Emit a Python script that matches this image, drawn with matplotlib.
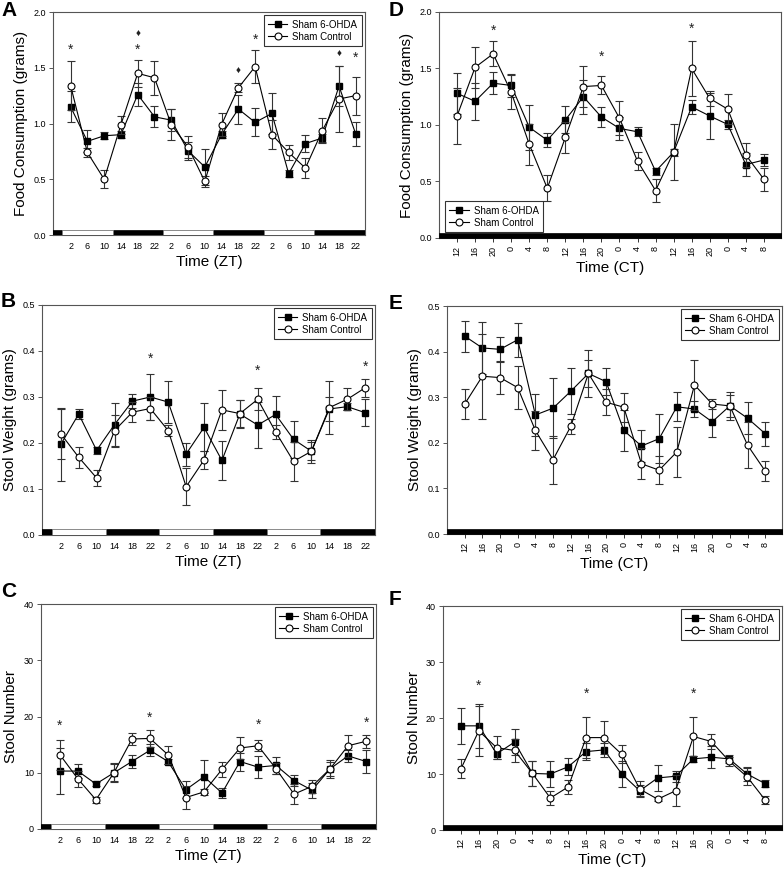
import matplotlib
matplotlib.use("Agg")
import matplotlib.pyplot as plt
from matplotlib.lines import Line2D
import numpy as np

plt.rcParams['font.family'] = ['Liberation Sans', 'DejaVu Sans']

# ---------------- data ----------------
zt_labels = ['2', '6', '10', '14', '18', '22'] * 3
ct_labels = ['12', '16', '20', '0', '4', '8'] * 3
zt_hours = [2, 6, 10, 14, 18, 22, 26, 30, 34, 38, 42, 46, 50, 54, 58, 62, 66, 70]
dark_periods = [(-3, 0), (12, 24), (36, 48), (60, 73)]
light_periods = [(0, 12), (24, 36), (48, 60)]

# Panel A: food consumption (ZT)
A_ohda = [1.15, 0.84, 0.89, 0.90, 1.26, 1.06, 1.03, 0.755, 0.61, 0.90, 1.13, 1.01, 1.09, 0.55, 0.82, 0.87, 1.335, 0.905]
A_ohda_se = [0.14, 0.10, 0.03, 0.03, 0.10, 0.095, 0.10, 0.08, 0.16, 0.03, 0.13, 0.125, 0.18, 0.03, 0.08, 0.04, 0.18, 0.105]
A_ctrl = [1.34, 0.74, 0.50, 0.99, 1.45, 1.41, 0.99, 0.79, 0.48, 0.99, 1.32, 1.51, 0.90, 0.74, 0.60, 0.935, 1.22, 1.25]
A_ctrl_se = [0.22, 0.04, 0.08, 0.08, 0.12, 0.15, 0.14, 0.10, 0.05, 0.10, 0.04, 0.15, 0.13, 0.07, 0.09, 0.11, 0.30, 0.17]
A_star = [(0, 1.66), (4, 1.66), (11, 1.75), (17, 1.59)]
A_diam = [(4, 1.80), (10, 1.47), (16, 1.62)]

# Panel D: food consumption (CT)
D_ohda = [1.28, 1.21, 1.37, 1.35, 0.98, 0.865, 1.045, 1.25, 1.07, 0.97, 0.94, 0.59, 0.76, 1.16, 1.08, 1.005, 0.65, 0.69]
D_ohda_se = [0.18, 0.165, 0.10, 0.10, 0.20, 0.06, 0.12, 0.15, 0.09, 0.10, 0.04, 0.03, 0.25, 0.06, 0.20, 0.04, 0.10, 0.05]
D_ctrl = [1.08, 1.51, 1.63, 1.29, 0.83, 0.44, 0.89, 1.34, 1.35, 1.06, 0.68, 0.42, 0.76, 1.50, 1.235, 1.14, 0.735, 0.52]
D_ctrl_se = [0.25, 0.18, 0.11, 0.15, 0.18, 0.115, 0.14, 0.18, 0.08, 0.15, 0.08, 0.10, 0.03, 0.24, 0.065, 0.13, 0.11, 0.10]
D_star = [(2, 1.83), (8, 1.60), (13, 1.85)]

# Panel B: stool weight (ZT)
B_ohda = [0.197, 0.263, 0.184, 0.240, 0.291, 0.300, 0.289, 0.176, 0.234, 0.162, 0.263, 0.239, 0.262, 0.208, 0.182, 0.274, 0.279, 0.266]
B_ohda_se = [0.08, 0.01, 0.008, 0.048, 0.015, 0.05, 0.045, 0.025, 0.052, 0.043, 0.03, 0.05, 0.04, 0.04, 0.02, 0.026, 0.008, 0.03]
B_ctrl = [0.220, 0.169, 0.124, 0.227, 0.267, 0.275, 0.227, 0.105, 0.163, 0.272, 0.264, 0.295, 0.224, 0.160, 0.182, 0.277, 0.295, 0.320]
B_ctrl_se = [0.055, 0.023, 0.018, 0.034, 0.022, 0.025, 0.012, 0.04, 0.02, 0.043, 0.03, 0.024, 0.015, 0.043, 0.025, 0.057, 0.024, 0.02]
B_star = [(5, 0.383), (11, 0.358), (17, 0.365)]

# Panel E: stool weight (CT)
E_ohda = [0.434, 0.408, 0.405, 0.426, 0.261, 0.276, 0.313, 0.352, 0.334, 0.227, 0.193, 0.209, 0.279, 0.274, 0.246, 0.281, 0.254, 0.220]
E_ohda_se = [0.034, 0.057, 0.026, 0.037, 0.045, 0.066, 0.05, 0.03, 0.03, 0.046, 0.036, 0.054, 0.032, 0.017, 0.034, 0.03, 0.035, 0.026]
E_ctrl = [0.285, 0.346, 0.343, 0.321, 0.227, 0.163, 0.236, 0.352, 0.289, 0.278, 0.154, 0.140, 0.180, 0.327, 0.285, 0.281, 0.195, 0.138]
E_ctrl_se = [0.033, 0.093, 0.035, 0.047, 0.043, 0.053, 0.016, 0.052, 0.029, 0.032, 0.034, 0.03, 0.054, 0.055, 0.01, 0.024, 0.05, 0.022]

# Panel C: stool number (ZT)
C_ohda = [10.3, 10.3, 8.0, 10.0, 12.0, 14.0, 12.0, 7.0, 9.3, 6.4, 12.0, 11.0, 11.3, 8.6, 6.9, 10.7, 13.0, 12.0]
C_ohda_se = [4.1, 1.2, 0.4, 1.7, 1.2, 1.1, 0.5, 1.5, 2.9, 0.9, 1.6, 2.0, 1.5, 1.0, 1.3, 1.6, 1.0, 2.0]
C_ctrl = [13.2, 8.9, 5.2, 10.0, 16.0, 16.1, 13.2, 5.6, 6.6, 10.6, 14.4, 14.8, 10.7, 6.2, 7.6, 10.7, 14.8, 15.6]
C_ctrl_se = [2.7, 1.5, 0.5, 1.5, 1.1, 1.5, 1.6, 2.1, 0.5, 1.4, 1.9, 1.0, 1.0, 1.8, 1.2, 1.3, 2.0, 1.2]
C_star = [(0, 18.3), (5, 19.7), (11, 18.6), (17, 18.9)]

# Panel F: stool number (CT)
F_ohda = [18.6, 18.6, 13.6, 15.7, 10.1, 10.0, 11.3, 14.0, 14.3, 10.0, 7.0, 9.3, 9.6, 12.7, 13.0, 12.7, 10.0, 8.3]
F_ohda_se = [3.2, 3.9, 0.9, 2.3, 2.2, 2.3, 1.5, 1.5, 1.2, 2.3, 1.0, 2.3, 1.0, 0.6, 2.0, 0.7, 1.2, 0.6]
F_ctrl = [10.9, 17.7, 14.7, 14.2, 10.1, 5.7, 7.7, 16.5, 16.5, 13.5, 7.3, 5.5, 7.0, 16.7, 15.8, 12.3, 9.5, 5.4]
F_ctrl_se = [1.7, 4.4, 2.0, 2.0, 2.2, 1.2, 1.3, 3.6, 3.0, 1.6, 1.4, 0.4, 2.8, 3.5, 1.4, 0.8, 1.5, 0.7]
F_star = [(1, 25.8), (7, 24.4), (13, 24.4)]

series_names = ['Sham 6-OHDA', 'Sham Control']

# ---------------- figure ----------------
fig = plt.figure(figsize=(7.84, 8.77), dpi=100)
W, H = 784.0, 877.0

def make_ax(l, r, t, b):
    return fig.add_axes([l / W, 1 - b / H, (r - l) / W, (b - t) / H])

spine_col = '#555555'
SQ_MS, CI_MS = 4.3, 5.0

def draw_series(ax, x, ohda, ohda_se, ctrl, ctrl_se):
    ax.errorbar(x, ohda, yerr=ohda_se, color='black', ecolor='#333333', elinewidth=0.8,
                capsize=2.6, capthick=0.8, lw=0.8, marker='s', ms=SQ_MS, mfc='black', mec='black',
                zorder=3)
    ax.errorbar(x, ctrl, yerr=ctrl_se, color='black', ecolor='#333333', elinewidth=0.8,
                capsize=2.6, capthick=0.8, lw=0.8, marker='o', ms=CI_MS, mfc='white', mec='black',
                mew=0.8, zorder=4)

def style(ax, ylim, yticks, yfmt, ylabel, xlabel):
    ax.set_ylim(*ylim)
    ax.set_yticks(yticks)
    ax.set_yticklabels([yfmt.format(v) for v in yticks], fontsize=6.5)
    for s in ax.spines.values():
        s.set_color(spine_col)
        s.set_linewidth(0.8)
    ax.tick_params(axis='y', length=3, width=0.7, color=spine_col, pad=2)
    ax.set_ylabel(ylabel, fontsize=11, labelpad=4)
    ax.set_xlabel(xlabel, fontsize=11, labelpad=3)

def legend(ax, loc, pad=0.35):
    handles = [Line2D([], [], color='black', lw=0.8, marker='s', ms=SQ_MS, mfc='black', mec='black'),
               Line2D([], [], color='black', lw=0.8, marker='o', ms=CI_MS, mfc='white', mec='black', mew=0.8)]
    lg = ax.legend(handles, series_names, loc=loc, fontsize=7, frameon=True, fancybox=False,
                   edgecolor='black', handlelength=2.0, borderpad=0.45, labelspacing=0.2,
                   handletextpad=0.5, borderaxespad=pad)
    lg.get_frame().set_linewidth(0.8)

def zt_axis(ax):
    ax.set_xlim(-2.2, 72.2)
    ax.set_xticks(zt_hours)
    ax.set_xticklabels(zt_labels, fontsize=6.5)
    ax.tick_params(axis='x', length=0, pad=5)
    tr = ax.get_xaxis_transform()
    ax.broken_barh([(a, b - a) for a, b in dark_periods], (0, 0.024), transform=tr,
                   facecolor='black', edgecolor='black', lw=0.5, zorder=5, clip_on=True)
    ax.broken_barh([(a, b - a) for a, b in light_periods], (0, 0.024), transform=tr,
                   facecolor='white', edgecolor='#777777', lw=0.6, zorder=5, clip_on=True)

def ct_axis(ax, n):
    ax.set_xlim(-1.0, n - 0.05)
    ax.set_xticks(np.arange(n))
    ax.set_xticklabels(ct_labels, fontsize=6.5, rotation=90)
    ax.tick_params(axis='x', length=3, width=0.7, color='#333333', pad=3)
    tr = ax.get_xaxis_transform()
    ax.broken_barh([(-1.0, n + 1)], (0, 0.022), transform=tr, facecolor='black',
                   edgecolor='black', lw=0.5, zorder=5, clip_on=True)

def marks(ax, x, pts, ch, fs):
    for i, y in pts:
        ax.text(x[i], y, ch, ha='center', va='center', fontsize=fs, color='#222222', zorder=6)

idx = np.arange(18)

# A
axA = make_ax(53, 365, 12, 235)
draw_series(axA, zt_hours, A_ohda, A_ohda_se, A_ctrl, A_ctrl_se)
style(axA, (0, 2.0), [0.0, 0.5, 1.0, 1.5, 2.0], '{:.1f}', 'Food Consumption (grams)', 'Time (ZT)')
zt_axis(axA)
legend(axA, 'upper right')
marks(axA, zt_hours, A_star, '*', 10)
marks(axA, zt_hours, A_diam, '\u2666', 7)

# D
axD = make_ax(439, 781, 12, 238)
draw_series(axD, idx, D_ohda, D_ohda_se, D_ctrl, D_ctrl_se)
style(axD, (0, 2.0), [0.0, 0.5, 1.0, 1.5, 2.0], '{:.1f}', 'Food Consumption (grams)', 'Time (CT)')
ct_axis(axD, 18)
legend(axD, 'lower left', pad=0.6)
marks(axD, idx, D_star, '*', 10)

# B
axB = make_ax(42, 375, 305, 535)
draw_series(axB, zt_hours, B_ohda, B_ohda_se, B_ctrl, B_ctrl_se)
style(axB, (0, 0.5), [0.0, 0.1, 0.2, 0.3, 0.4, 0.5], '{:.1f}', 'Stool Weight (grams)', 'Time (ZT)')
zt_axis(axB)
legend(axB, 'upper right')
marks(axB, zt_hours, B_star, '*', 10)

# E
axE = make_ax(447, 782, 306, 534)
draw_series(axE, idx, E_ohda, E_ohda_se, E_ctrl, E_ctrl_se)
style(axE, (0, 0.5), [0.0, 0.1, 0.2, 0.3, 0.4, 0.5], '{:.1f}', 'Stool Weight (grams)', 'Time (CT)')
ct_axis(axE, 18)
legend(axE, 'upper right')

# C
axC = make_ax(41, 376, 604, 829)
draw_series(axC, zt_hours, C_ohda, C_ohda_se, C_ctrl, C_ctrl_se)
style(axC, (0, 40), [0, 10, 20, 30, 40], '{:.0f}', 'Stool Number', 'Time (ZT)')
zt_axis(axC)
legend(axC, 'upper right')
marks(axC, zt_hours, C_star, '*', 10)

# F
axF = make_ax(443, 782, 606, 830)
draw_series(axF, idx, F_ohda, F_ohda_se, F_ctrl, F_ctrl_se)
style(axF, (0, 40), [0, 10, 20, 30, 40], '{:.0f}', 'Stool Number', 'Time (CT)')
ct_axis(axF, 18)
legend(axF, 'upper right')
marks(axF, idx, F_star, '*', 10)

# panel letters
for lab, x, y in [('A', 1, 1), ('D', 389, 1), ('B', 1, 292), ('E', 389, 294), ('C', 1, 582), ('F', 389, 590)]:
    fig.text(x / W, 1 - y / H, lab, fontsize=15, fontweight='bold', ha='left', va='top')

fig.savefig('out.png', dpi=100)
